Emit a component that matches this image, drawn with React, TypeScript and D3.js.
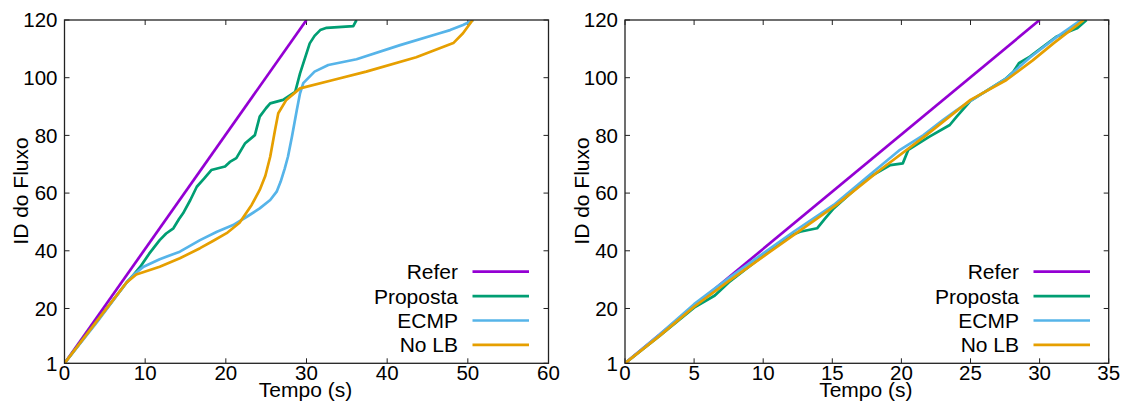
import React from "react";
import * as d3 from "d3";

type Pt = [number, number];

// ---- Left chart data (time s, flow ID) ----
const leftRefer: Pt[] = [[0, 1], [30, 120]];
const leftProposta: Pt[] = [[0, 1], [3, 12], [5.5, 21], [7.7, 29], [8.5, 31.5], [9.4, 34.5], [10.5, 39], [11.8, 43.7], [12.6, 46], [13.5, 47.8], [14.2, 51], [14.7, 53], [15.6, 57.6], [16.4, 62.2], [17.3, 65], [18.2, 68], [19.9, 69.2], [20.5, 70.8], [21.3, 72.1], [22.4, 77.3], [23.6, 80.1], [24.2, 86.5], [25.0, 89.5], [25.5, 91.1], [27.1, 92.3], [28.6, 95.1], [29.2, 101.5], [29.8, 106.7], [30.4, 111.9], [31.0, 114.5], [31.7, 116.5], [32.5, 117.3], [35.8, 117.9], [36.2, 120]];
const leftECMP: Pt[] = [[0, 1], [4, 15.2], [7.7, 29], [8.5, 31.5], [9.8, 34.5], [11.8, 37.1], [14.3, 39.7], [16.8, 43.7], [18.9, 46.6], [20.9, 48.9], [22.6, 51.8], [24.2, 54.7], [25.5, 57.6], [26.3, 60.5], [26.8, 64], [27.3, 68.5], [27.7, 72.6], [28.2, 79.6], [28.8, 88.8], [29.2, 94.6], [29.6, 98.1], [31.0, 102.1], [32.7, 104.4], [36.2, 106.4], [41.6, 111.3], [46.5, 115.4], [47.8, 116.5], [49.4, 118.3], [50.7, 120]];
const leftNoLB: Pt[] = [[0, 1], [4, 15.6], [7.7, 29], [8.9, 31.8], [11.8, 34.5], [14.3, 37.4], [16.8, 40.9], [18.4, 43.4], [20.1, 46.1], [21.7, 49.7], [23.2, 55.9], [24.2, 61.1], [24.9, 66], [25.5, 72.6], [26.1, 81.9], [26.5, 87.7], [27.5, 92.3], [29.2, 96.3], [33.3, 99.2], [37.4, 102.1], [43.6, 107.1], [48.2, 112], [49.4, 115.4], [50.6, 120]];

// ---- Right chart data ----
const rightRefer: Pt[] = [[0, 1], [30, 120]];
const rightProposta: Pt[] = [[0, 1], [2.5, 10.5], [5, 20.3], [6.5, 24.5], [7.5, 29], [10, 38.3], [12.0, 45.3], [12.66, 46.6], [13.9, 47.8], [14.5, 51.3], [15.1, 54.7], [17.5, 65], [19.2, 69.7], [20.1, 70.3], [20.5, 75], [22, 79.5], [23.5, 83.6], [24, 86.5], [25, 92], [27.5, 99.5], [28.1, 102.1], [28.5, 105], [29.3, 107.3], [31.2, 114.2], [32.7, 117.1], [33.4, 120]];
const rightECMP: Pt[] = [[0, 1], [2.5, 11], [5, 21.5], [7.5, 30.5], [10, 39.1], [12.2, 46.6], [15.1, 55.9], [17.5, 65.5], [19.9, 75], [21.6, 80.1], [23, 85.3], [24, 88.8], [25, 92], [27.6, 99.8], [29.3, 107], [31.2, 114], [33, 120]];
const rightNoLB: Pt[] = [[0, 1], [2.5, 10.5], [5, 20.6], [7.5, 29.5], [10, 38], [12.4, 46.1], [15.3, 55.9], [18.45, 68], [21.8, 80.1], [25, 92.3], [27.6, 99.2], [29.5, 106], [31, 111.9], [33.2, 120]];

const seriesNames = ["Refer", "Proposta", "ECMP", "No LB"];
const seriesColors = ["#9400D3", "#009E73", "#56B4E9", "#E69F00"];
const yTicks = [1, 20, 40, 60, 80, 100, 120];
const leftXTicks = [0, 10, 20, 30, 40, 50, 60];
const rightXTicks = [0, 5, 10, 15, 20, 25, 30, 35];

const FONT = "'Liberation Sans', Arial, sans-serif";

function Panel({ x0, x1, xMax, xTicks, series, legendX }: { x0: number; x1: number; xMax: number; xTicks: number[]; series: Pt[][]; legendX: number }) {
  const top = 20;
  const bottom = 363.3;
  const xs = d3.scaleLinear().domain([0, xMax]).range([x0, x1]);
  const ys = d3.scaleLinear().domain([1, 120]).range([bottom, top]);
  const line = d3.line<Pt>().x((d) => xs(d[0])).y((d) => ys(d[1]));
  const tl = 5;
  const axisColor = "#222";
  return (
    <g>
      <defs>
        <clipPath id={`clip-${x0}`}>
          <rect x={x0} y={top} width={x1 - x0} height={bottom - top} />
        </clipPath>
      </defs>
      {xTicks.map((t) => (
        <g key={`xt${t}`}>
          <line x1={xs(t)} x2={xs(t)} y1={bottom} y2={bottom - tl} stroke={axisColor} strokeWidth={1} />
          <line x1={xs(t)} x2={xs(t)} y1={top} y2={top + tl} stroke={axisColor} strokeWidth={1} />
          <text x={xs(t)} y={380} textAnchor="middle" fontSize={20.5} fontFamily={FONT} fill="#000">{t}</text>
        </g>
      ))}
      {yTicks.map((t) => (
        <g key={`yt${t}`}>
          <line x1={x0} x2={x0 + tl} y1={ys(t)} y2={ys(t)} stroke={axisColor} strokeWidth={1} />
          <line x1={x1} x2={x1 - tl} y1={ys(t)} y2={ys(t)} stroke={axisColor} strokeWidth={1} />
          <text x={x0 - 7} y={ys(t)} dy="0.36em" textAnchor="end" fontSize={20.5} fontFamily={FONT} fill="#000">{t}</text>
        </g>
      ))}
      <g clipPath={`url(#clip-${x0})`}>
        {series.map((s, i) => (
          <path key={i} d={line(s) || ""} fill="none" stroke={seriesColors[i]} strokeWidth={2.7} strokeLinejoin="round" />
        ))}
      </g>
      <rect x={x0} y={top} width={x1 - x0} height={bottom - top} fill="none" stroke={axisColor} strokeWidth={1.3} />
      <text x={(x0 + x1) / 2 - 1} y={397} textAnchor="middle" fontSize={21} fontFamily={FONT} fill="#000">Tempo (s)</text>
      <text transform={`translate(${x0 - 36.5},191) rotate(-90)`} textAnchor="middle" fontSize={21} fontFamily={FONT} fill="#000">ID do Fluxo</text>
      {seriesNames.map((n, i) => {
        const yy = 271.7 + i * 24.4;
        return (
          <g key={n}>
            <text x={legendX} y={yy} dy="0.36em" textAnchor="end" fontSize={21} fontFamily={FONT} fill="#000">{n}</text>
            <line x1={legendX + 14.5} x2={legendX + 71} y1={yy} y2={yy} stroke={seriesColors[i]} strokeWidth={2.7} />
          </g>
        );
      })}
    </g>
  );
}

export default function App() {
  return (
    <svg width={1129} height={403} style={{ position: "absolute", left: 0, top: 0, background: "#fff" }}>
      <rect x={0} y={0} width={1129} height={403} fill="#fff" />
      <Panel x0={64.5} x1={548.5} xMax={60} xTicks={leftXTicks} series={[leftRefer, leftProposta, leftECMP, leftNoLB]} legendX={458} />
      <Panel x0={625} x1={1108.7} xMax={35} xTicks={rightXTicks} series={[rightRefer, rightProposta, rightECMP, rightNoLB]} legendX={1019} />
    </svg>
  );
}
